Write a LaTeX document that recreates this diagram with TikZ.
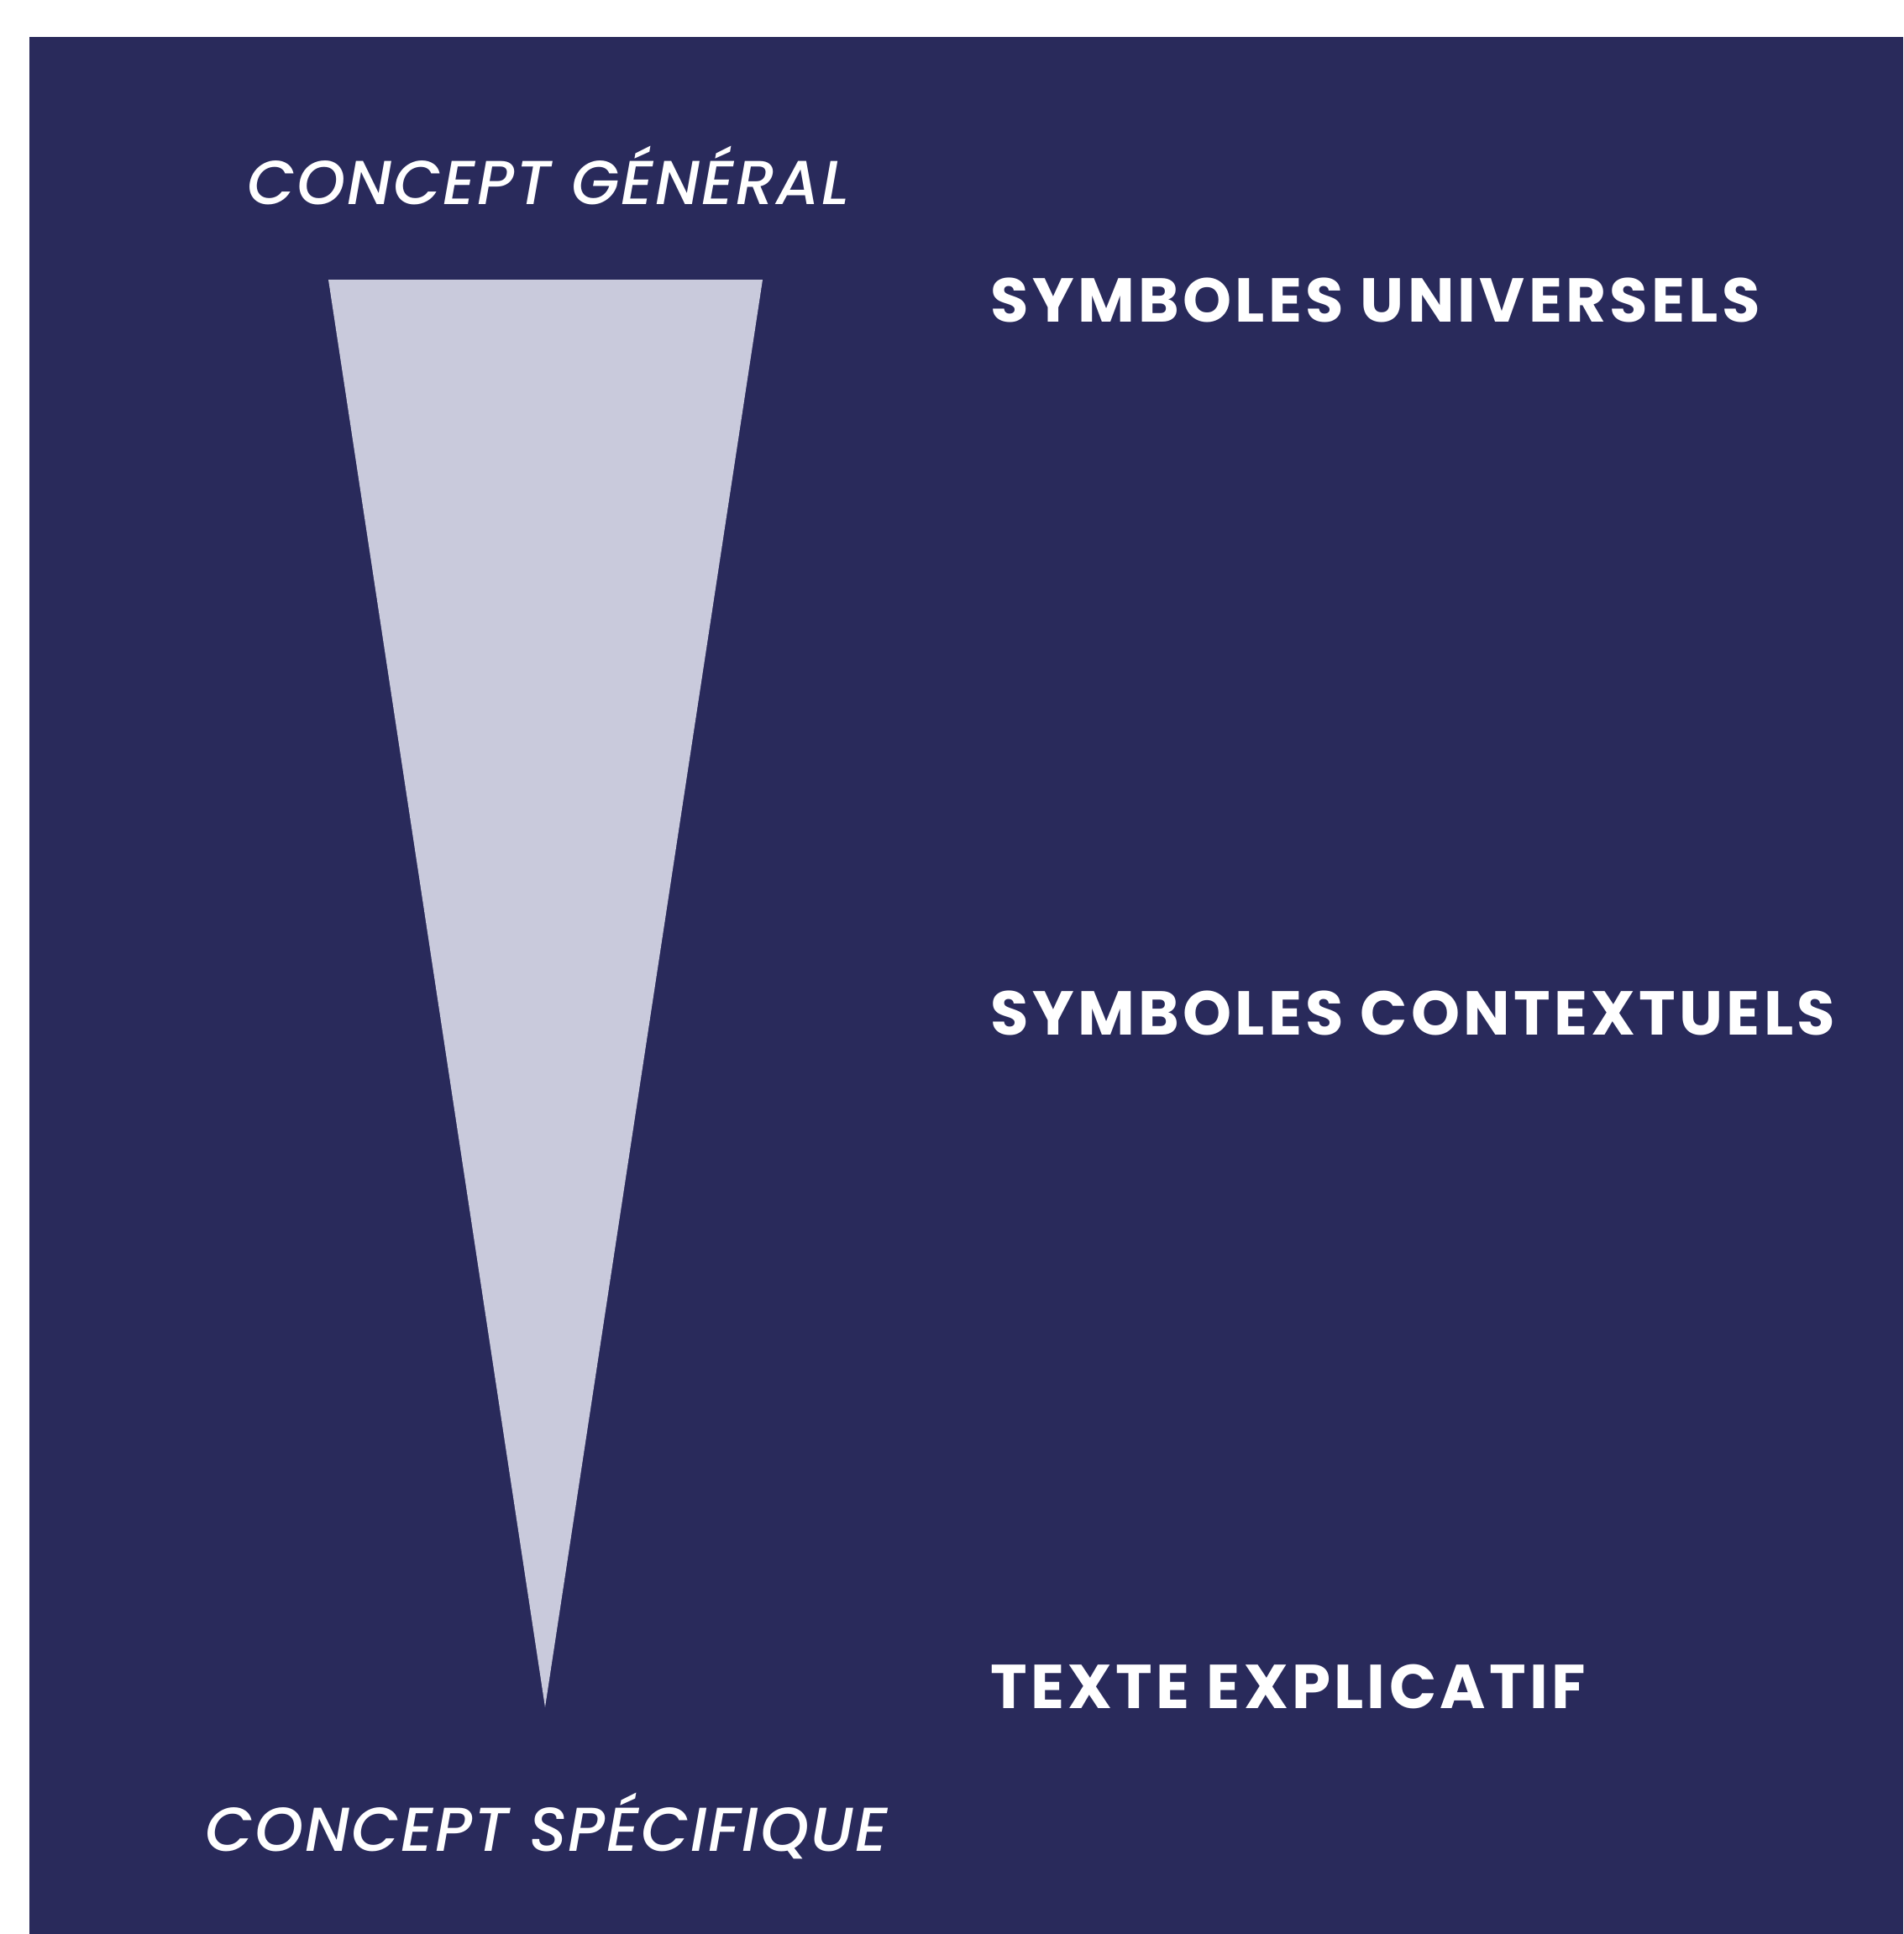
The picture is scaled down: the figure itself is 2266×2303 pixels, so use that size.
\documentclass[tikz,border=0pt]{standalone}
\usepackage{fontspec}
\setmainfont{Poppins}
\newfontfamily\conceptfont{Poppins Medium Italic}
\definecolor{navybg}{HTML}{292A5B}
\definecolor{wedgefill}{HTML}{C9CADC}
\begin{document}
\begin{tikzpicture}[
  x=0.01cm, y=-0.01cm,
  conceptlabel/.style={text=white, inner sep=0pt, anchor=base west, font=\fontsize{21}{21}\selectfont\conceptfont\addfontfeatures{LetterSpace=2.7}},
  levellabel/.style={text=white, inner sep=0pt, anchor=base west, font=\fontsize{21}{21}\selectfont\bfseries\addfontfeatures{LetterSpace=5.8}}
]
\useasboundingbox (0,0) rectangle (2266,2303);
% Background panel
\fill[navybg] (35,44) rectangle (2266,2303);

% Wedge
\coordinate (wl) at (391,333);
\coordinate (wr) at (908,333);
\coordinate (wb) at (649,2033);
\fill[wedgefill] (wl) -- (wr) -- (wb) -- cycle;

% Ends of the scale
\node[conceptlabel] (gen) at (294,244) {CONCEPT GÉNÉRAL};
\node[conceptlabel] (spec) at (244,2204) {CONCEPT SPÉCIFIQUE};

% Levels
\node[levellabel] (univ) at (1179,383) {SYMBOLES UNIVERSELS};
\node[levellabel] (cont) at (1179,1232) {SYMBOLES CONTEXTUELS};
\node[levellabel] (expl) at (1179,2034) {TEXTE EXPLICATIF};
\end{tikzpicture}
\end{document}
